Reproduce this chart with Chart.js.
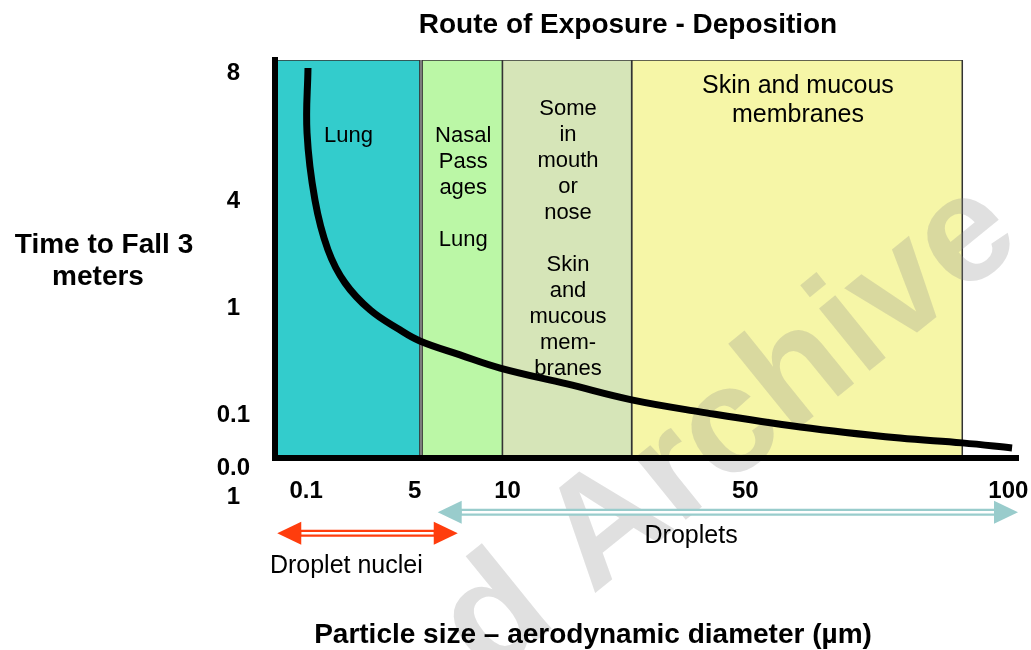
<!DOCTYPE html>
<html>
<head>
<meta charset="utf-8">
<script src="https://cdn.jsdelivr.net/npm/chart.js@4/dist/chart.umd.min.js"></script>
<style>
html, body { margin: 0; padding: 0; background: #fff; }
#wrap { width: 1031px; height: 650px; }
</style>
</head>
<body>
<div id="wrap"><canvas id="depositionChart"></canvas></div>
<script>
// Schematic axes: both run 0-100 along the drawing, ticks carry the real labels
const xTickPos = [4.2, 18.8, 31.3, 63.3, 98.7];
const xTickLabels = ['0.1', '5', '10', '50', '100'];
const yTickPos = [96.6, 64.4, 37.6, 10.7, -6.2];
const yTickLabels = ['8', '4', '1', '0.1', ['0.0', '1']];

// Fall-time curve
const curveX = [4.44, 4.31, 5.38, 7.13, 9.42, 12.8, 16.8, 19.5, 24.9, 30.3, 39.3, 48.0, 57.2, 70.7, 84.1, 92.5, 99.2];
const curveY = [98.0, 81.7, 64.8, 52.3, 44.0, 37.2, 32.2, 29.4, 25.9, 22.6, 18.6, 14.6, 11.6, 7.8, 5.0, 3.8, 2.5];

// Deposition regions
const bandStart = [0, 19.8, 30.6, 48.0];
const bandEnd = [19.5, 30.6, 48.0, 92.5];
const bandTop = [100, 100, 100, 100];
const bandLabels = [
    ['Lung'],
    ['Nasal', 'Pass', 'ages', '', 'Lung'],
    ['Some', 'in', 'mouth', 'or', 'nose', '', 'Skin', 'and', 'mucous', 'mem-', 'branes'],
    ['Skin and mucous', 'membranes']
];

// Size ranges below the axis
const arrowNames = ['Droplet nuclei', 'Droplets'];
const arrowFrom = [0.3, 21.9];
const arrowTo = [24.6, 100];
const arrowLevel = [-18.9, -13.6];

// styles
const FONT = '"Liberation Sans", Arial, Helvetica, sans-serif';
const bandColors = ['#33CCCC', '#BBF7A6', '#D6E5B8', '#F6F6A7'];
const bandLabelBase = [79.4, 79.4, 86.2, 91.7];
const bandLabelStep = [26, 26, 26, 29];
const bandLabelSize = [22, 22, 22, 25];
const arrowColors = ['#FF3D0D', '#99CCCC'];
const arrowLabelX = [9.6, 56.0];
const arrowLabelBase = [-28.9, -21.4];

function drawArrow(ctx, x1, x2, y, color) {
    const head = 24, half = 11.5;
    ctx.save();
    ctx.strokeStyle = color;
    ctx.lineWidth = 7;
    ctx.beginPath(); ctx.moveTo(x1 + head - 2, y); ctx.lineTo(x2 - head + 2, y); ctx.stroke();
    ctx.strokeStyle = '#fff';
    ctx.lineWidth = 2.5;
    ctx.beginPath(); ctx.moveTo(x1 + head, y); ctx.lineTo(x2 - head, y); ctx.stroke();
    ctx.fillStyle = color;
    ctx.beginPath(); ctx.moveTo(x1, y); ctx.lineTo(x1 + head, y - half); ctx.lineTo(x1 + head, y + half); ctx.closePath(); ctx.fill();
    ctx.beginPath(); ctx.moveTo(x2, y); ctx.lineTo(x2 - head, y - half); ctx.lineTo(x2 - head, y + half); ctx.closePath(); ctx.fill();
    ctx.restore();
}

const decorations = {
    id: 'decorations',
    beforeDatasetDraw(chart, args) {
        // watermark sits over the bands but under the curve
        if (args.index !== 0) return;
        const ctx = chart.ctx;
        ctx.save();
        ctx.translate(730, 430);
        ctx.rotate(-39 * Math.PI / 180);
        ctx.font = 'bold 152px ' + FONT;
        ctx.fillStyle = 'rgba(140, 140, 140, 0.27)';
        ctx.textAlign = 'center';
        ctx.textBaseline = 'middle';
        ctx.fillText('d Archive', 0, 0);
        ctx.restore();
    },
    afterDraw(chart) {
        const {ctx, scales: {x, y}} = chart;
        ctx.save();
        ctx.fillStyle = '#000';
        ctx.textAlign = 'center';
        ctx.textBaseline = 'alphabetic';

        // titles
        ctx.font = 'bold 28px ' + FONT;
        ctx.fillText('Route of Exposure - Deposition', 628, 33);
        ctx.fillText('Time to Fall 3', 104, 253);
        ctx.fillText('meters', 98, 285);
        ctx.fillText('Particle size \u2013 aerodynamic diameter (\u00b5m)', 593, 643);

        // region labels
        bandLabels.forEach((lines, i) => {
            ctx.font = bandLabelSize[i] + 'px ' + FONT;
            const cx = (x.getPixelForValue(bandStart[i]) + x.getPixelForValue(bandEnd[i])) / 2 + 1;
            const base = y.getPixelForValue(bandLabelBase[i]);
            lines.forEach((t, j) => ctx.fillText(t, cx, base + j * bandLabelStep[i]));
        });

        // arrows
        arrowNames.forEach((name, i) => {
            drawArrow(ctx, x.getPixelForValue(arrowFrom[i]), x.getPixelForValue(arrowTo[i]),
                y.getPixelForValue(arrowLevel[i]), arrowColors[i]);
            ctx.fillStyle = '#000';
            ctx.font = '25px ' + FONT;
            ctx.fillText(name, x.getPixelForValue(arrowLabelX[i]), y.getPixelForValue(arrowLabelBase[i]));
        });
        ctx.restore();
    }
};

const datasets = [{
    label: 'Time to fall',
    data: curveX.map((v, i) => ({ x: v, y: curveY[i] })),
    borderColor: '#000',
    borderWidth: 7,
    pointRadius: 0,
    tension: 0.4,
    fill: false
}];
bandStart.forEach((s, i) => {
    datasets.push({
        label: 'band ' + i,
        data: [{ x: s, y: 0 }, { x: s, y: bandTop[i] }, { x: bandEnd[i], y: bandTop[i] }, { x: bandEnd[i], y: 0 }],
        borderColor: '#333',
        borderWidth: 1.5,
        backgroundColor: bandColors[i],
        pointRadius: 0,
        tension: 0,
        fill: 'origin'
    });
});

const tickFont = { size: 24, weight: 'bold', family: FONT };

new Chart(document.getElementById('depositionChart').getContext('2d'), {
    type: 'line',
    data: { datasets: datasets },
    options: {
        responsive: true,
        maintainAspectRatio: false,
        animation: false,
        layout: { padding: { top: 60, right: 13, bottom: 142, left: 215 } },
        plugins: {
            legend: { display: false },
            tooltip: { enabled: false }
        },
        scales: {
            x: {
                type: 'linear', min: 0, max: 100,
                grid: { display: false, drawTicks: false },
                border: { display: true, width: 6, color: '#000', z: 1 },
                afterBuildTicks: s => { s.ticks = xTickPos.map(v => ({ value: v })); },
                afterFit: s => { s.height = 50; s.paddingLeft = 0; s.paddingRight = 0; },
                ticks: {
                    autoSkip: false, maxRotation: 0, padding: 19, color: '#000', font: tickFont,
                    callback: (v, i) => xTickLabels[i]
                }
            },
            y: {
                type: 'linear', min: 0, max: 100,
                grid: { display: false, drawTicks: false },
                border: { display: true, width: 6, color: '#000', z: 1 },
                afterBuildTicks: s => { s.ticks = yTickPos.map(v => ({ value: v })); },
                afterFit: s => { s.width = 60; s.paddingTop = 0; s.paddingBottom = 0; },
                ticks: {
                    autoSkip: false, padding: 25, crossAlign: 'center', color: '#000', font: tickFont,
                    callback: (v, i) => yTickLabels[i]
                }
            }
        }
    },
    plugins: [decorations]
});
</script>
</body>
</html>
